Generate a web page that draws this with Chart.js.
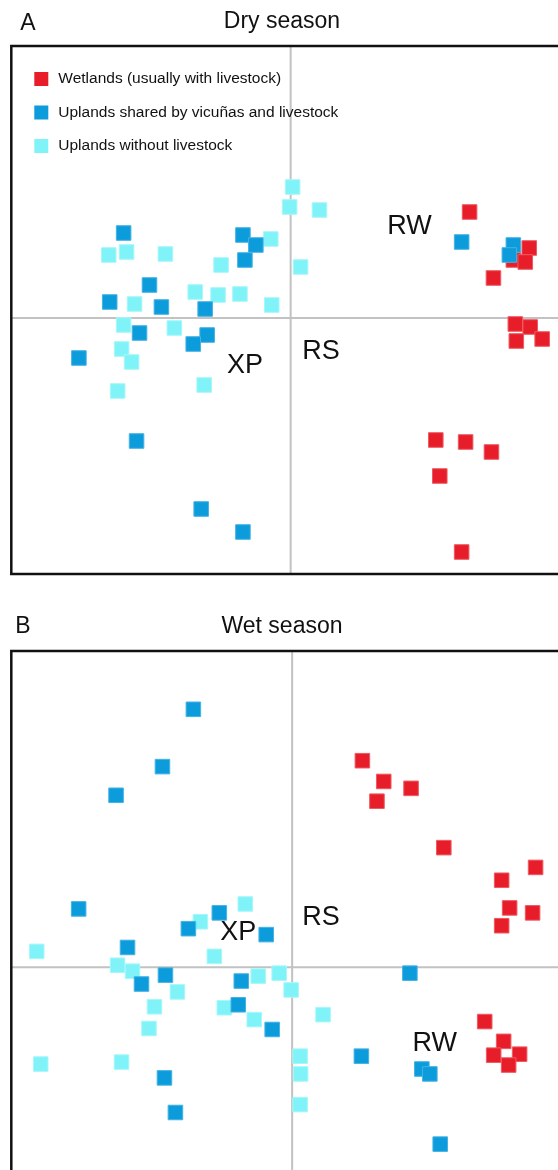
<!DOCTYPE html>
<html>
<head>
<meta charset="utf-8">
<script src="https://cdn.jsdelivr.net/npm/chart.js@4.4.1/dist/chart.umd.min.js"></script>
<style>
  html, body { margin: 0; padding: 0; background: #fff; }
  #page { position: relative; width: 558px; height: 1170px; overflow: hidden;
          font-family: "Liberation Sans", Arial, sans-serif; color: #111; }
  canvas { position: absolute; left: 0; }
  #chartDry { top: 0; }
  #chartWet { top: 600px; }
  .txt { position: absolute; font-size: 23px; line-height: 1; white-space: nowrap;
         transform: translate(-50%, -50%); z-index: 2; }
</style>
</head>
<body>
<div id="page">
  <canvas id="chartDry" width="600" height="590"></canvas>
  <canvas id="chartWet" width="600" height="590"></canvas>
  <div class="txt" style="left:28px; top:22px;">A</div>
  <div class="txt" style="left:282px; top:20px;">Dry season</div>
  <div class="txt" style="left:23px; top:625px;">B</div>
  <div class="txt" style="left:282px; top:625px;">Wet season</div>
</div>
<script>
// Group names
const groupLabels = [
  'Wetlands (usually with livestock)',
  'Uplands shared by vicuñas and livestock',
  'Uplands without livestock'
];

// Dry season ordination scores [axis 1, axis 2]
const dryWetlands = [
  [0.90, 0.53], [1.20, 0.35], [1.12, 0.29], [1.18, 0.28], [1.02, 0.20],
  [1.13, -0.03], [1.205, -0.045], [1.135, -0.115], [1.265, -0.105],
  [0.73, -0.61], [0.88, -0.62], [1.01, -0.67], [0.75, -0.79], [0.86, -1.17]
];
const dryShared = [
  [-0.84, 0.425], [-0.24, 0.415], [-0.175, 0.365], [-0.23, 0.29], [-0.71, 0.165],
  [-0.91, 0.08], [-0.65, 0.055], [-0.43, 0.045], [-0.76, -0.075], [-0.42, -0.085],
  [-0.49, -0.13], [-1.065, -0.20], [-0.775, -0.615], [-0.45, -0.955], [-0.24, -1.07],
  [0.86, 0.38], [1.12, 0.365], [1.10, 0.315]
];
const dryNoLivestock = [
  [0.01, 0.655], [-0.005, 0.555], [0.145, 0.54], [0.05, 0.255], [-0.915, 0.315],
  [-0.825, 0.33], [-0.63, 0.32], [-0.10, 0.395], [-0.35, 0.265], [-0.785, 0.07],
  [-0.48, 0.13], [-0.365, 0.115], [-0.255, 0.12], [-0.095, 0.065], [-0.84, -0.035],
  [-0.585, -0.05], [-0.85, -0.155], [-0.80, -0.22], [-0.435, -0.335], [-0.87, -0.365]
];
const dryTags = [
  { text: 'RW', x: 0.5975, y: 0.455 },
  { text: 'XP', x: -0.23, y: -0.2375 },
  { text: 'RS', x: 0.1525, y: -0.17 }
];

// Wet season ordination scores [axis 1, axis 2]
const wetWetlands = [
  [0.352, 1.045], [0.459, 0.94], [0.596, 0.905], [0.425, 0.84], [0.76, 0.605],
  [1.22, 0.505], [1.05, 0.44], [1.09, 0.30], [1.205, 0.275], [1.05, 0.21],
  [0.965, -0.275], [1.06, -0.375], [1.01, -0.445], [1.14, -0.44], [1.085, -0.495]
];
const wetShared = [
  [-0.495, 1.305], [-0.65, 1.015], [-0.8825, 0.87], [-1.07, 0.295], [-0.365, 0.275],
  [-0.52, 0.195], [-0.13, 0.165], [-0.825, 0.10], [-0.635, -0.04], [-0.755, -0.085],
  [-0.255, -0.07], [-0.27, -0.19], [-0.10, -0.315], [0.59, -0.03], [0.347, -0.45],
  [0.65, -0.515], [0.69, -0.54], [-0.64, -0.56], [-0.585, -0.735], [0.742, -0.895]
];
const wetNoLivestock = [
  [-0.235, 0.32], [-0.46, 0.23], [-1.28, 0.08], [-0.39, 0.055], [-0.875, 0.01],
  [-0.80, -0.02], [-0.575, -0.125], [-0.17, -0.045], [-0.065, -0.03], [-0.005, -0.115],
  [-0.69, -0.20], [-0.34, -0.205], [-0.19, -0.265], [0.155, -0.24], [-0.7175, -0.31],
  [-1.26, -0.49], [-0.855, -0.48], [0.04, -0.45], [0.0425, -0.54], [0.04, -0.695]
];
const wetTags = [
  { text: 'XP', x: -0.27, y: 0.175 },
  { text: 'RS', x: 0.145, y: 0.25 },
  { text: 'RW', x: 0.715, y: -0.385 }
];

const groupColors = ['#e71e29', '#0c9bdb', '#80f3f8'];
const groupEdges  = ['#ee5a62', '#45b3e4', '#a8f7fa'];
// stacking: shared uplands on top, then wetlands, then uplands without livestock
const groupOrder  = [1, 0, 2];

const FONT = '"Liberation Sans", Arial, sans-serif';

const ordinationPlugin = {
  id: 'ordination',
  beforeDatasetsDraw(chart) {
    const { ctx, chartArea: a, scales: { x, y } } = chart;
    const x0 = x.getPixelForValue(0), y0 = y.getPixelForValue(0);
    ctx.save();
    ctx.strokeStyle = '#c2c2c2';
    ctx.lineWidth = 2;
    ctx.beginPath();
    ctx.moveTo(x0, a.top); ctx.lineTo(x0, a.bottom);
    ctx.moveTo(a.left, y0); ctx.lineTo(a.right, y0);
    ctx.stroke();
    ctx.restore();
  },
  afterDatasetsDraw(chart, args, opts) {
    const { ctx, chartArea: a, scales: { x, y } } = chart;
    ctx.save();
    // frame
    ctx.strokeStyle = '#111';
    ctx.lineWidth = 2.5;
    ctx.strokeRect(a.left, a.top, a.right - a.left, a.bottom - a.top);
    // group tags
    ctx.fillStyle = '#111';
    ctx.font = '27px ' + FONT;
    ctx.textAlign = 'center';
    ctx.textBaseline = 'middle';
    (opts.tags || []).forEach(t => {
      ctx.fillText(t.text, x.getPixelForValue(t.x), y.getPixelForValue(t.y));
    });
    // legend
    if (opts.legend) {
      ctx.font = '15.5px ' + FONT;
      ctx.textAlign = 'left';
      chart.data.datasets.forEach((ds, i) => {
        const cy = a.top + 33 + i * 33.5;
        ctx.fillStyle = ds.backgroundColor;
        ctx.fillRect(a.left + 23, cy - 7, 14, 14);
        ctx.fillStyle = '#111';
        ctx.fillText(ds.label, a.left + 47, cy);
      });
    }
    ctx.restore();
  }
};

function makeDatasets(groups) {
  return groups.map((pts, i) => ({
    label: groupLabels[i],
    data: pts.map(p => ({ x: p[0], y: p[1] })),
    backgroundColor: groupColors[i],
    borderColor: groupEdges[i],
    pointBackgroundColor: groupColors[i],
    pointBorderColor: groupEdges[i],
    pointBorderWidth: 1,
    pointStyle: 'rect',
    pointRadius: 10.3,
    order: groupOrder[i],
    clip: false
  }));
}

function makeChart(id, groups, tags, legend, pad, xr, yr) {
  return new Chart(document.getElementById(id), {
    type: 'scatter',
    data: { datasets: makeDatasets(groups) },
    options: {
      responsive: false,
      animation: false,
      events: [],
      devicePixelRatio: 1,
      layout: { padding: pad },
      scales: {
        x: { type: 'linear', min: xr[0], max: xr[1], display: false },
        y: { type: 'linear', min: yr[0], max: yr[1], display: false }
      },
      plugins: {
        legend: { display: false },
        tooltip: { enabled: false },
        ordination: { tags: tags, legend: legend }
      }
    },
    plugins: [ordinationPlugin]
  });
}

makeChart('chartDry', [dryWetlands, dryShared, dryNoLivestock], dryTags, true,
  { left: 8, right: 30, top: 46, bottom: 16 }, [-1.405, 1.405], [-1.28, 1.36]);
makeChart('chartWet', [wetWetlands, wetShared, wetNoLivestock], wetTags, false,
  { left: 10, right: 27, top: 51, bottom: 5 }, [-1.4075, 1.4075], [-1.07, 1.60]);
</script>
</body>
</html>
